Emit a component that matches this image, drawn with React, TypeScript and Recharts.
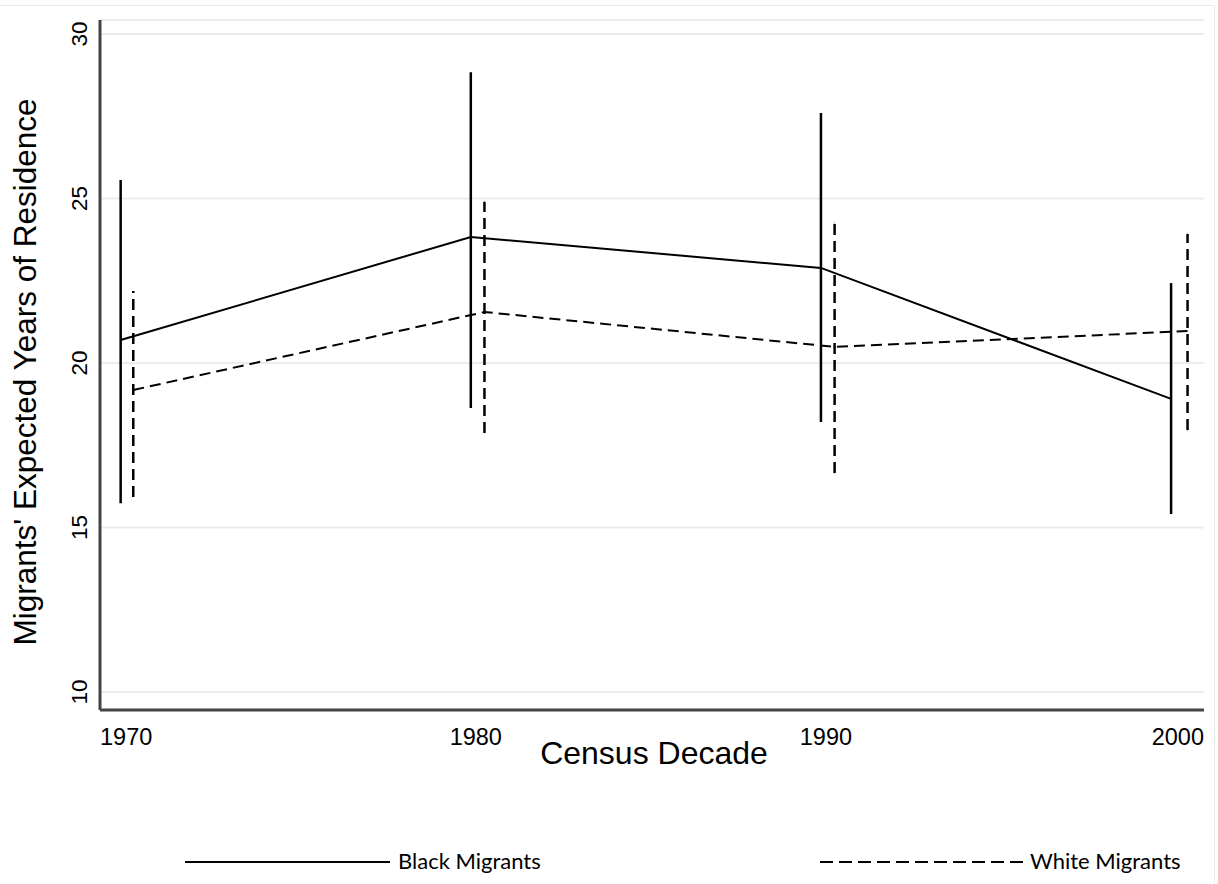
import React from "react";
import { ComposedChart, Line, XAxis, YAxis, CartesianGrid, ErrorBar } from "recharts";

const decades = [1970, 1980, 1990, 2000];
// white migrants are drawn slightly to the right of each decade
const whiteX = [1970.36, 1980.39, 1990.39, 2000.47];

const blackMean = [20.7, 23.83, 22.89, 18.91];
const blackLow = [15.74, 18.63, 18.21, 15.41];
const blackHigh = [25.56, 28.84, 27.6, 22.43];

const whiteMean = [19.18, 21.55, 20.49, 20.97];
const whiteLow = [15.93, 17.87, 16.66, 17.96];
const whiteHigh = [22.19, 24.9, 24.26, 23.92];

const yTicks = [10, 15, 20, 25, 30];

const blackData = decades.map((d, i) => ({
  x: d,
  y: blackMean[i],
  err: [blackMean[i] - blackLow[i], blackHigh[i] - blackMean[i]],
}));

const whiteData = whiteX.map((d, i) => ({
  x: d,
  y: whiteMean[i],
  err: [whiteMean[i] - whiteLow[i], whiteHigh[i] - whiteMean[i]],
}));

const AXIS_FONT = "'Liberation Sans', Arial, sans-serif";
const LEGEND_FONT = "Lato, 'Open Sans', sans-serif";
const DASH = "11 6";

const XTick = (props: any) => {
  const { x, y, payload } = props;
  const v = payload.value;
  let anchor: "start" | "middle" | "end" = "middle";
  let tx = x + 5;
  if (v === decades[0]) {
    anchor = "start";
    tx = 100;
  } else if (v === decades[decades.length - 1]) {
    anchor = "end";
    tx = 1204;
  }
  return (
    <text x={tx} y={y + 27} textAnchor={anchor} fontSize={23.5} fontFamily={AXIS_FONT} fill="#000">
      {v}
    </text>
  );
};

const YTick = (props: any) => {
  const { y, payload } = props;
  return (
    <text
      x={87}
      y={y}
      transform={`rotate(-90, 87, ${y})`}
      textAnchor="middle"
      fontSize={22.5}
      fontFamily={AXIS_FONT}
      fill="#000"
    >
      {payload.value}
    </text>
  );
};

const XTitle = (props: any) => {
  const { viewBox } = props;
  return (
    <text
      x={viewBox.x + viewBox.width / 2 + 2}
      y={764}
      textAnchor="middle"
      fontSize={32}
      fontFamily={AXIS_FONT}
      fill="#000"
    >
      Census Decade
    </text>
  );
};

const YTitle = () => {
  const cy = 372;
  return (
    <text
      x={36}
      y={cy}
      transform={`rotate(-90, 36, ${cy})`}
      textAnchor="middle"
      fontSize={31.5}
      fontFamily={AXIS_FONT}
      fill="#000"
    >
      Migrants' Expected Years of Residence
    </text>
  );
};

export default function App() {
  return (
    <div style={{ position: "absolute", left: 0, top: 0, width: 1218, height: 884, background: "#fff" }}>
      <div
        style={{
          position: "absolute",
          left: 0,
          top: 5,
          width: 1215,
          height: 879,
          borderTop: "1px solid #e4ebee",
          borderRight: "1px solid #e4ebee",
          boxSizing: "border-box",
        }}
      />
      <ComposedChart width={1218} height={884} margin={{ top: 20, right: 14, bottom: 94, left: 0 }}>
        <CartesianGrid vertical={false} stroke="#ececec" strokeWidth={2} />
        <XAxis
          dataKey="x"
          type="number"
          domain={[1969.41, 2000.94]}
          ticks={decades}
          allowDataOverflow
          height={80}
          tickLine={false}
          axisLine={{ stroke: "#444", strokeWidth: 3 }}
          tick={<XTick />}
          label={<XTitle />}
        />
        <YAxis
          type="number"
          domain={[9.453, 30.426]}
          ticks={yTicks}
          allowDataOverflow
          width={100}
          tickLine={false}
          axisLine={{ stroke: "#444", strokeWidth: 3 }}
          tick={<YTick />}
          label={<YTitle />}
        />
        <Line
          data={blackData}
          dataKey="y"
          stroke="#000"
          strokeWidth={2}
          dot={false}
          activeDot={false}
          isAnimationActive={false}
        >
          <ErrorBar dataKey="err" width={0} direction="y" stroke="#000" strokeWidth={2.5} isAnimationActive={false} />
        </Line>
        <Line
          data={whiteData}
          dataKey="y"
          stroke="#000"
          strokeWidth={2}
          strokeDasharray={DASH}
          dot={false}
          activeDot={false}
          isAnimationActive={false}
        >
          <ErrorBar
            dataKey="err"
            width={0}
            direction="y"
            stroke="#000"
            strokeWidth={2.5}
            strokeDasharray={DASH}
            isAnimationActive={false}
          />
        </Line>
      </ComposedChart>
      <svg
        width={1218}
        height={884}
        style={{ position: "absolute", left: 0, top: 0, pointerEvents: "none" }}
      >
        <line x1={185} x2={390} y1={862} y2={862} stroke="#000" strokeWidth={2} />
        <text x={398} y={869} fontSize={22} fontFamily={LEGEND_FONT} fill="#000">
          Black Migrants
        </text>
        <line x1={820} x2={1025} y1={862} y2={862} stroke="#000" strokeWidth={2} strokeDasharray="13 6" />
        <text x={1030} y={869} fontSize={22} fontFamily={LEGEND_FONT} fill="#000">
          White Migrants
        </text>
      </svg>
    </div>
  );
}
